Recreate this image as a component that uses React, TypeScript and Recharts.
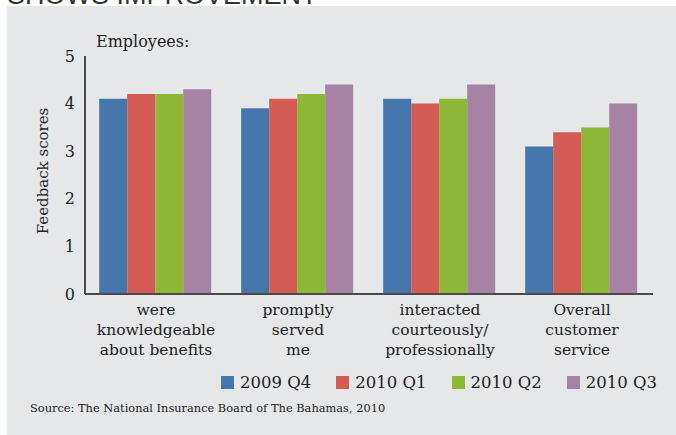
import React from 'react';
import { BarChart, Bar, XAxis, YAxis } from 'recharts';

const categories = [
  ['were', 'knowledgeable', 'about benefits'],
  ['promptly', 'served', 'me'],
  ['interacted', 'courteously/', 'professionally'],
  ['Overall', 'customer', 'service'],
];
const q2009Q4 = [4.1, 3.9, 4.1, 3.1];
const q2010Q1 = [4.2, 4.1, 4.0, 3.4];
const q2010Q2 = [4.2, 4.2, 4.1, 3.5];
const q2010Q3 = [4.3, 4.4, 4.4, 4.0];
const yTicks = [0, 1, 2, 3, 4, 5];

const seriesNames = ['2009 Q4', '2010 Q1', '2010 Q2', '2010 Q3'];
const seriesKeys = ['s0', 's1', 's2', 's3'];
const colors = ['#4677AC', '#D55C54', '#8DB836', '#A683A4'];

const data = categories.map((c, i) => ({
  name: c.join('|'),
  s0: q2009Q4[i],
  s1: q2010Q1[i],
  s2: q2010Q2[i],
  s3: q2010Q3[i],
}));

const FONT = '"DejaVu Serif", serif';

const XTick = (props: any) => {
  const { x, y, payload } = props;
  const lines = String(payload.value).split('|');
  return (
    <text x={x} y={y} textAnchor="middle" fill="#222" fontFamily={FONT} fontSize={15.5}>
      {lines.map((l, i) => (
        <tspan key={i} x={x} y={y + 13 + i * 20}>
          {l}
        </tspan>
      ))}
    </text>
  );
};

export default function App() {
  return (
    <div style={{ position: 'absolute', left: 0, top: 0, width: 676, height: 435, background: '#fff', overflow: 'hidden' }}>
      <div
        style={{
          position: 'absolute',
          left: 7,
          top: -18,
          fontFamily: '"Liberation Sans", Arial, sans-serif',
          fontSize: 27,
          color: '#333',
          whiteSpace: 'nowrap',
          lineHeight: '27px',
        }}
      >
        SHOWS IMPROVEMENT
      </div>
      <div style={{ position: 'absolute', left: 7, top: 6, width: 669, height: 429, background: '#E6E7E9' }} />
      <div
        style={{
          position: 'absolute',
          left: 96,
          top: 32,
          fontFamily: FONT,
          fontSize: 16,
          color: '#222',
          whiteSpace: 'nowrap',
        }}
      >
        Employees:
      </div>
      <div
        style={{
          position: 'absolute',
          left: 43,
          top: 171,
          transform: 'translate(-50%, -50%) rotate(-90deg)',
          fontFamily: FONT,
          fontSize: 15,
          color: '#222',
          whiteSpace: 'nowrap',
        }}
      >
        Feedback scores
      </div>
      <div
        style={{
          position: 'absolute',
          left: 221,
          top: 373,
          display: 'flex',
          fontFamily: FONT,
          fontSize: 16.5,
          color: '#222',
          whiteSpace: 'nowrap',
        }}
      >
        {seriesNames.map((n, i) => (
          <div key={n} style={{ display: 'flex', alignItems: 'center', marginLeft: i === 0 ? 0 : 25 }}>
            <span style={{ display: 'inline-block', width: 13, height: 13, background: colors[i], marginRight: 6 }} />
            <span>{n}</span>
          </div>
        ))}
      </div>
      <div
        style={{
          position: 'absolute',
          left: 30,
          top: 401,
          fontFamily: FONT,
          fontSize: 11.4,
          color: '#222',
          whiteSpace: 'nowrap',
        }}
      >
        Source: The National Insurance Board of The Bahamas, 2010
      </div>
      <div style={{ position: 'absolute', left: 0, top: 0 }}>
        <BarChart
          width={676}
          height={435}
          data={data}
          margin={{ top: 56, right: 23, left: 25, bottom: 71 }}
          barCategoryGap="10%"
          barGap={0}
        >
          <XAxis
            dataKey="name"
            tick={<XTick />}
            tickLine={false}
            axisLine={{ stroke: '#4a4a4a', strokeWidth: 2 }}
            interval={0}
            height={70}
          />
          <YAxis
            domain={[0, 5]}
            ticks={yTicks}
            width={60}
            tickLine={false}
            tickSize={6}
            tickMargin={4}
            axisLine={{ stroke: '#4a4a4a', strokeWidth: 2 }}
            tick={{ fill: '#222', fontFamily: FONT, fontSize: 16 }}
          />
          {seriesKeys.map((k, i) => (
            <Bar key={k} dataKey={k} name={seriesNames[i]} fill={colors[i]} isAnimationActive={false} />
          ))}
        </BarChart>
      </div>
    </div>
  );
}
